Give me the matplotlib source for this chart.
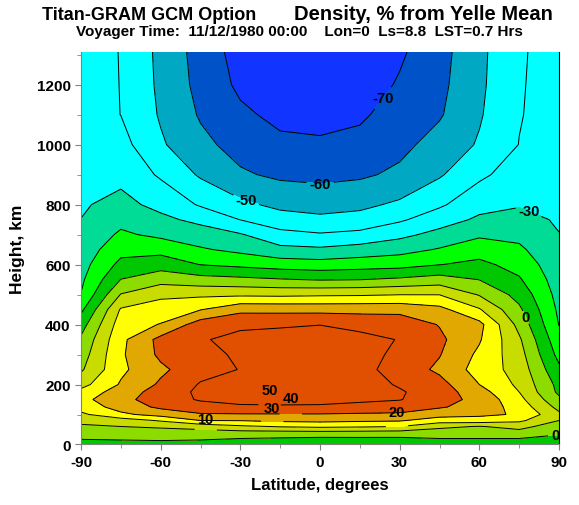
import numpy as np
import matplotlib
matplotlib.use('Agg')
from matplotlib import pyplot as plt
from matplotlib.ticker import MultipleLocator

plt.rcParams['font.family'] = ['Liberation Sans', 'DejaVu Sans']
plt.rcParams['font.weight'] = 'bold'
plt.rcParams['axes.unicode_minus'] = False

# grid of the GCM field: latitude (deg) x height (km)
lat = [-90, -75, -60, -45, -30, -15, 0, 15, 30, 45, 60, 75, 90]
height = [0, 20, 40, 60, 80, 100, 125, 150, 175, 200, 250, 300, 350, 400,
          450, 500, 550, 600, 650, 700, 750, 800, 900, 1000, 1100, 1200, 1310]

# density, % from Yelle mean, one column per latitude (bottom -> top)
dens_m90 = [-3, 0.5, 5, 8.5, 12.7, 18, 24, 27, 23, 16.6, 8.6, 5.1, 1.7, -4.3,
            -12.2, -19.7, -21.9, -23.9, -25.9, -27.9, -29.9, -31, -33, -34, -35, -35.8, -36]
dens_m75 = [-3, 1, 6, 10, 15, 28, 34, 37, 35, 31, 28, 28.5, 27.5, 25,
            21, 10.5, 0.2, -7.3, -13.3, -18.4, -22.9, -27.2, -32.6, -36.5, -40.1, -40.2, -40.3]
dens_m60 = [-3, 1.6, 6.1, 11.4, 21, 33.6, 42, 45, 44, 41.5, 38, 42, 43, 30.5,
            24.6, 17.9, 6.2, -4.3, -13.3, -22.2, -27.8, -32.7, -41.4, -48.7, -51, -52, -52.5]
dens_m45 = [-4, 1.3, 6.3, 13.8, 30, 39, 46, 51, 52, 50.8, 46.5, 46, 49, 45,
            29.6, 18.1, 3.8, -10.2, -18.9, -25.4, -32.5, -41.1, -51.3, -57.5, -61, -63, -64]
dens_m30 = [-5, 0, 6.7, 18.3, 30.4, 39.2, 48.5, 53, 54, 54, 50.3, 52, 53, 48,
            37.5, 18.2, 2.4, -12.4, -22.4, -29.2, -40.2, -47.8, -58.7, -63.6, -68.1, -72, -74]
dens_m15 = [-5, -0.8, 6.9, 20.7, 32.1, 39.3, 48.5, 54, 56, 57, 56, 56, 55, 48.5,
            37.3, 17.8, 0.7, -14.7, -27.3, -37, -45.9, -52.4, -61.8, -67.9, -72.5, -75.5, -78]
dens_000 = [-5, -1.7, 7.3, 22, 32.7, 39.3, 48.6, 53, 55, 56, 57, 57, 55, 49.8,
            37, 18.5, -0.7, -15.8, -28.3, -39.1, -47.8, -53.9, -62.6, -68.7, -73, -76, -79]
dens_p15 = [-5, -1.5, 7, 21.2, 31.7, 38.7, 46.8, 52, 54, 54.5, 53, 55, 53.5, 46.7,
            37.2, 18.8, -0.2, -14.5, -26, -37.3, -46.7, -52.2, -61.5, -67.2, -71.5, -75, -77]
dens_p30 = [-5, -1.5, 6.5, 20, 31, 38.5, 45, 50.5, 51, 49, 46, 47, 49.5, 46,
            37.1, 19.8, 1.7, -13.6, -23.4, -32.6, -41.4, -48.3, -58.1, -62.6, -65.8, -69, -71.5]
dens_p45 = [-5, 0, 6, 12, 25, 34, 41, 44, 45, 43.5, 38, 40.5, 42, 39.5,
            33, 19.8, 4.4, -10.2, -19.2, -26.9, -34.6, -41.5, -51.1, -56.2, -61, -62.5, -63.5]
dens_p60 = [-4, 0, 5, 9.5, 25.5, 32, 36, 37, 34, 30, 26, 28, 31, 33,
            20.9, 9.2, -0.2, -7.6, -14.3, -21.6, -28.3, -33.4, -42, -49, -51, -52, -52.5]
dens_p75 = [-4, 0, 7, 13, 22, 29, 26, 23, 20, 18, 16, 14, 11.5, 6.8,
            1.8, -3.4, -8.9, -13.6, -18.2, -22.6, -27, -30.7, -35.2, -39.8, -40.5, -40.6, -40.7]
dens_p90 = [-4, -1.5, 1, 5, 10, 12, 7, 2, -2, -3, -8, -13, -16.8, -20.3,
            -21.9, -23.5, -25, -26.6, -28.2, -29.8, -31, -32, -34, -35, -36, -37, -37.5]

levels = [-70, -60, -50, -40, -30, -20, -10, 0, 10, 20, 30, 40, 50]
band_colors = ['#1234ff', '#0052c8', '#00a8c4', '#00ffff', '#00ffff', '#00dc96',
               '#00ff00', '#00c800', '#8cdc00', '#c8dc00', '#ffff00', '#e0a800',
               '#e05000', '#e05000']

# label spots (lat, km) on the lines, and how far the text sits above the line
label_pos = {-70: [(26, 1140)], -60: [(0, 855)], -50: [(-28, 810)],
             -30: [(78, 765)], 0: [(79, 430), (88.5, 30)], 50: [(-19, 129)],
             40: [(-11, 102)], 30: [(-18, 72)], 10: [(-43, 60)], 20: [(29, 60)]}
label_lift = {50: 50, 40: 52, 30: 46, 10: 35, 20: 50}

cols = [dens_m90, dens_m75, dens_m60, dens_m45, dens_m30, dens_m15, dens_000,
        dens_p15, dens_p30, dens_p45, dens_p60, dens_p75, dens_p90]
z = np.array(cols).T

fig = plt.figure(figsize=(5.79, 5.06), dpi=100)
ax = fig.add_axes([0.1399, 0.1196, 0.8256, 0.7762])

fill_levels = [-200] + levels + [200]
ax.contourf(lat, height, z, levels=fill_levels, colors=band_colors)

for lev in levels:
    cs = ax.contour(lat, height, z, levels=[lev], colors='black',
                    linewidths=0.7, linestyles='solid')
    if lev in label_pos:
        txts = ax.clabel(cs, manual=label_pos[lev], inline=True, inline_spacing=3,
                         fontsize=10.5, fmt='%d', colors='black')
        for t in txts:
            t.set_fontweight('bold')
            t.set_rotation(0)
            if lev in label_lift:
                x, y = t.get_position()
                t.set_position((x, y + label_lift[lev]))

ax.set_xlim(-90, 90)
ax.set_ylim(0, 1310)
ax.set_xticks([-90, -60, -30, 0, 30, 60, 90])
ax.set_yticks([0, 200, 400, 600, 800, 1000, 1200])
ax.xaxis.set_minor_locator(MultipleLocator(15))
ax.yaxis.set_minor_locator(MultipleLocator(100))
ax.tick_params(which='both', direction='out', color='#808080', labelsize=11)
ax.tick_params(which='major', length=4)
ax.tick_params(which='minor', length=3)
for lab in ax.get_xticklabels() + ax.get_yticklabels():
    lab.set_fontweight('bold')

ax.spines['top'].set_visible(False)
ax.spines['left'].set_color('#808080')
ax.spines['bottom'].set_color('#808080')
ax.spines['right'].set_color('black')
ax.spines['right'].set_linewidth(0.8)

ax.set_xlabel('Latitude, degrees', fontsize=12, fontweight='bold', labelpad=6)
ax.set_ylabel('Height, km', fontsize=12.5, fontweight='bold', labelpad=8)

fig.text(42 / 579, 1 - 15 / 506, 'Titan-GRAM GCM Option', fontsize=13,
         fontweight='bold', ha='left', va='center')
fig.text(553 / 579, 1 - 15 / 506, 'Density, % from Yelle Mean', fontsize=14.5,
         fontweight='bold', ha='right', va='center')
fig.text(299 / 579, 1 - 32 / 506,
         'Voyager Time:  11/12/1980 00:00    Lon=0  Ls=8.8  LST=0.7 Hrs',
         fontsize=11, fontweight='bold', ha='center', va='center')

fig.savefig('out.png', dpi=100)
